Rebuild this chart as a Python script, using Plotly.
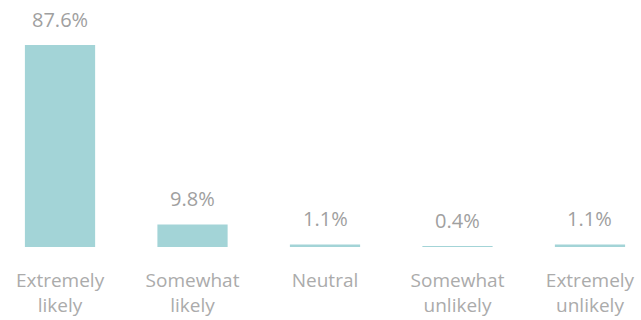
import plotly.graph_objects as go

categories = ["Extremely<br>likely", "Somewhat<br>likely", "Neutral", "Somewhat<br>unlikely", "Extremely<br>unlikely"]
values = [87.6, 9.8, 1.1, 0.4, 1.1]
labels = ["87.6%", "9.8%", "1.1%", "0.4%", "1.1%"]

fig = go.Figure()
fig.add_trace(go.Bar(
    x=categories, y=values, width=0.53,
    marker=dict(color="#a3d4d7", line=dict(width=0)),
    hoverinfo="skip",
))
for c, v, t in zip(categories, values, labels):
    fig.add_annotation(x=c, y=v, text=t, showarrow=False, yanchor="bottom",
                       yshift=10, font=dict(family="Open Sans", size=20, color="#a0a0a0"))

fig.update_layout(
    width=641, height=320,
    margin=dict(l=0, r=0, t=45, b=73),
    paper_bgcolor="white", plot_bgcolor="white",
    showlegend=False,
    xaxis=dict(type="category", range=[-0.453, 4.385], showgrid=False, zeroline=False,
               showline=False, ticks="", ticklabelstandoff=20,
               tickfont=dict(family="Open Sans", size=19, color="#ababab")),
    yaxis=dict(range=[0, 87.6], visible=False),
)
fig.write_html("out.html")
